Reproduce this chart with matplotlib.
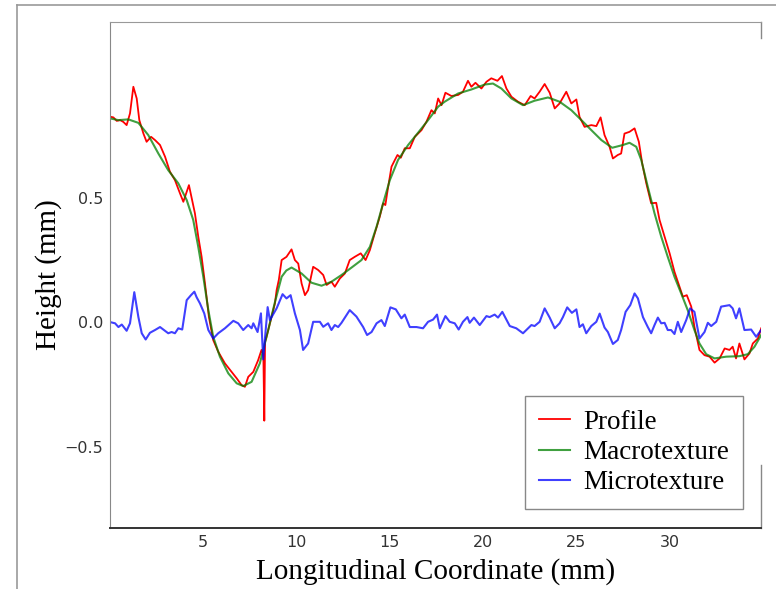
import matplotlib
matplotlib.use("Agg")
import matplotlib.pyplot as plt
from matplotlib.lines import Line2D

# ── data (x in mm, height in mm) ────────────────────────────────────────────
profile_x = [0, 0.18, 0.36, 0.54, 0.71, 0.89, 1.07, 1.25, 1.43, 1.57, 1.79, 1.96,
             2.20, 2.41, 2.68, 2.95, 3.21, 3.48, 3.75, 3.93, 4.11, 4.23, 4.38, 4.55,
             4.73, 4.91, 5.09, 5.30, 5.53, 5.80, 6.16, 6.52, 6.79, 7.05, 7.23, 7.41,
             7.68, 7.94, 8.12, 8.22, 8.27, 8.31, 8.39, 8.57, 8.84, 8.93, 9.05, 9.20,
             9.46, 9.73, 9.91, 10.09, 10.27, 10.45, 10.62, 10.89, 11.16, 11.43, 11.61,
             11.87, 12.05, 12.32, 12.59, 12.85, 13.12, 13.44, 13.70, 13.93, 14.19,
             14.46, 14.64, 14.76, 14.91, 15.09, 15.27, 15.41, 15.59, 15.80, 16.07,
             16.34, 16.70, 16.96, 17.23, 17.41, 17.59, 17.77, 17.98, 18.30, 18.66,
             18.92, 19.19, 19.37, 19.59, 19.91, 20.18, 20.44, 20.77, 21.01, 21.25,
             21.52, 21.87, 22.23, 22.55, 22.76, 23.03, 23.30, 23.57, 23.84, 24.10,
             24.46, 24.73, 25.00, 25.17, 25.44, 25.80, 26.07, 26.30, 26.51, 26.78,
             26.96, 27.22, 27.40, 27.58, 27.85, 28.12, 28.35, 28.53, 28.75, 29.01,
             29.28, 29.46, 29.73, 30.00, 30.26, 30.53, 30.71, 30.92, 31.16, 31.33,
             31.60, 31.87, 32.14, 32.41, 32.68, 32.95, 33.21, 33.38, 33.56, 33.74,
             34.01, 34.28, 34.46, 34.73, 34.91]
profile_y = [0.825, 0.822, 0.808, 0.811, 0.804, 0.791, 0.838, 0.945, 0.898, 0.811,
             0.757, 0.724, 0.744, 0.731, 0.711, 0.664, 0.604, 0.570, 0.517, 0.483,
             0.524, 0.550, 0.497, 0.437, 0.343, 0.262, 0.155, 0.021, -0.072, -0.119,
             -0.166, -0.200, -0.226, -0.253, -0.260, -0.220, -0.200, -0.153, -0.112,
             -0.130, -0.396, -0.080, -0.059, -0.005, 0.075, 0.128, 0.170, 0.249,
             0.262, 0.292, 0.249, 0.235, 0.155, 0.108, 0.128, 0.222, 0.209, 0.189,
             0.149, 0.162, 0.142, 0.175, 0.195, 0.249, 0.262, 0.276, 0.249, 0.289,
             0.356, 0.423, 0.477, 0.470, 0.543, 0.624, 0.651, 0.671, 0.660, 0.698,
             0.698, 0.744, 0.771, 0.804, 0.851, 0.838, 0.898, 0.871, 0.921, 0.908,
             0.912, 0.925, 0.969, 0.945, 0.961, 0.938, 0.965, 0.979, 0.969, 0.988,
             0.938, 0.905, 0.885, 0.871, 0.908, 0.898, 0.925, 0.956, 0.921, 0.858,
             0.878, 0.925, 0.878, 0.894, 0.824, 0.784, 0.791, 0.787, 0.822, 0.751,
             0.704, 0.657, 0.671, 0.677, 0.757, 0.764, 0.778, 0.724, 0.637, 0.557,
             0.477, 0.479, 0.410, 0.343, 0.276, 0.202, 0.142, 0.102, 0.108, 0.062,
             -0.019, -0.112, -0.133, -0.139, -0.163, -0.146, -0.106, -0.112, -0.099,
             -0.146, -0.086, -0.150, -0.126, -0.086, -0.066, -0.025]

macro_x = [0, 0.45, 0.98, 1.52, 2.05, 2.59, 3.12, 3.66, 4.11, 4.46, 4.73, 5.00,
           5.27, 5.53, 5.89, 6.34, 6.79, 7.14, 7.59, 8.03, 8.48, 8.84, 9.20, 9.45,
           9.73, 10.27, 10.80, 11.34, 11.87, 12.41, 12.95, 13.48, 13.93, 14.29,
           14.64, 15.00, 15.44, 15.98, 16.51, 17.05, 17.59, 17.94, 18.66, 19.37,
           20.09, 20.53, 20.98, 21.52, 22.14, 22.76, 23.48, 24.10, 24.73, 25.27,
           25.80, 26.34, 26.92, 27.49, 27.85, 28.21, 28.48, 28.83, 29.19, 29.55,
           29.90, 30.26, 30.62, 30.97, 31.33, 31.60, 31.96, 32.41, 33.03, 33.74,
           34.19, 34.55, 34.91]
macro_y = [0.818, 0.811, 0.814, 0.800, 0.751, 0.677, 0.610, 0.557, 0.490, 0.410,
           0.302, 0.182, 0.048, -0.059, -0.139, -0.206, -0.246, -0.257, -0.240,
           -0.166, -0.032, 0.080, 0.182, 0.207, 0.219, 0.195, 0.158, 0.146, 0.162,
           0.189, 0.219, 0.249, 0.302, 0.383, 0.477, 0.570, 0.651, 0.711, 0.760,
           0.811, 0.865, 0.885, 0.918, 0.934, 0.954, 0.958, 0.938, 0.898, 0.871,
           0.889, 0.902, 0.885, 0.851, 0.811, 0.771, 0.731, 0.700, 0.711, 0.720,
           0.704, 0.651, 0.543, 0.437, 0.343, 0.262, 0.182, 0.115, 0.048, -0.032,
           -0.086, -0.129, -0.146, -0.139, -0.137, -0.129, -0.099, -0.052]

micro_x = [0, 0.27, 0.45, 0.63, 0.89, 1.07, 1.30, 1.52, 1.70, 1.91, 2.14, 2.41,
           2.68, 2.86, 3.12, 3.30, 3.48, 3.66, 3.87, 4.11, 4.34, 4.52, 4.64, 4.82,
           5.05, 5.27, 5.53, 5.80, 6.16, 6.61, 6.87, 7.14, 7.41, 7.59, 7.68, 7.91,
           8.09, 8.21, 8.45, 8.57, 8.93, 9.25, 9.46, 9.68, 9.91, 10.18, 10.35, 10.62,
           10.89, 11.25, 11.43, 11.69, 11.87, 12.05, 12.23, 12.41, 12.85, 13.21,
           13.57, 13.78, 14.02, 14.29, 14.55, 14.73, 15.03, 15.32, 15.62, 15.80,
           16.07, 16.43, 16.78, 17.05, 17.32, 17.53, 17.68, 17.98, 18.21, 18.48,
           18.69, 18.92, 19.16, 19.28, 19.51, 19.82, 20.18, 20.35, 20.62, 20.80,
           21.03, 21.43, 21.78, 22.14, 22.59, 22.76, 23.03, 23.30, 23.57, 23.84,
           24.10, 24.28, 24.51, 24.76, 25.00, 25.17, 25.35, 25.53, 25.80, 26.07,
           26.25, 26.51, 26.69, 26.96, 27.22, 27.40, 27.64, 27.89, 28.12, 28.30,
           28.57, 28.83, 29.01, 29.19, 29.37, 29.55, 29.73, 29.90, 30.08, 30.26,
           30.44, 30.62, 30.89, 31.10, 31.33, 31.60, 31.87, 32.05, 32.23, 32.50,
           32.76, 33.21, 33.38, 33.56, 33.74, 34.01, 34.37, 34.64, 34.91]
micro_y = [0.0, -0.005, -0.020, -0.010, -0.035, -0.005, 0.120, 0.020, -0.045, -0.070,
           -0.043, -0.032, -0.020, -0.030, -0.045, -0.040, -0.045, -0.025, -0.030,
           0.088, 0.108, 0.122, 0.100, 0.075, 0.035, -0.032, -0.066, -0.045, -0.025,
           0.005, -0.005, -0.032, -0.012, -0.025, -0.005, -0.040, 0.035, -0.150,
           0.060, 0.008, 0.055, 0.112, 0.095, 0.108, 0.035, -0.032, -0.112, -0.086,
           0.001, 0.001, -0.019, -0.005, -0.032, -0.012, -0.020, -0.003, 0.048,
           0.022, -0.020, -0.052, -0.040, -0.005, 0.008, -0.016, 0.059, 0.051, 0.015,
           0.030, -0.020, -0.020, -0.025, 0.001, 0.010, 0.030, -0.025, 0.024, 0.001,
           -0.005, -0.030, 0.001, 0.020, -0.003, 0.018, -0.012, 0.024, 0.020, 0.030,
           0.018, 0.041, -0.016, -0.025, -0.045, -0.012, -0.016, 0.001, 0.055, 0.018,
           -0.025, -0.005, 0.020, 0.059, 0.037, 0.051, -0.020, -0.009, -0.045, -0.016,
           0.001, 0.034, -0.022, -0.040, -0.088, -0.072, -0.032, 0.041, 0.068, 0.115,
           0.095, 0.020, -0.020, -0.045, -0.012, 0.018, -0.005, -0.003, -0.032,
           -0.032, -0.048, 0.001, -0.040, 0.008, 0.055, 0.041, -0.066, -0.040, -0.003,
           -0.016, 0.001, 0.062, 0.068, 0.055, 0.015, 0.055, -0.032, -0.030, -0.059,
           -0.032]

x_ticks = [5, 10, 15, 20, 25, 30]
y_ticks = [-0.5, 0.0, 0.5]

# ── figure ──────────────────────────────────────────────────────────────────
fig = plt.figure(figsize=(7.76, 5.89), dpi=100)
ax = fig.add_axes([0.1418, 0.1036, 0.8389, 0.8590])

ax.plot(profile_x, profile_y, color="red", lw=1.3, label="Profile")
ax.plot(macro_x, macro_y, color="green", lw=1.5, alpha=0.75, label="Macrotexture")
ax.plot(micro_x, micro_y, color="blue", lw=1.5, alpha=0.75, label="Microtexture")

ax.set_xlim(0, 34.9)
ax.set_ylim(-0.827, 1.205)
ax.set_xticks(x_ticks)
ax.set_yticks(y_ticks)
ax.tick_params(length=0, labelsize=11.5, labelcolor="#333333", pad=5)

serif = ["Liberation Serif", "DejaVu Serif"]
ax.set_xlabel("Longitudinal Coordinate (mm)", family=serif, fontsize=21, labelpad=6)
ax.set_ylabel("Height (mm)", family=serif, fontsize=21, labelpad=2)

ax.spines["top"].set_color("#999999")
ax.spines["left"].set_color("#888888")
ax.spines["bottom"].set_color("#333333")
ax.spines["bottom"].set_linewidth(1.4)
ax.spines["right"].set_visible(False)
# right spine only shows in two short pieces in the reference
for y0, y1 in [(0.968, 1.0), (0.0, 0.125)]:
    ax.plot([1, 1], [y0, y1], color="#888888", lw=1.0,
            transform=ax.transAxes, clip_on=False)

leg = ax.legend(loc="lower right", bbox_to_anchor=(0.972, 0.0375), borderaxespad=0,
                prop={"family": serif, "size": 19.5}, fancybox=False,
                edgecolor="#888888", framealpha=1, handlelength=1.15,
                handletextpad=0.5, labelspacing=0.2, borderpad=0.5)
leg.get_frame().set_linewidth(1.0)

# outer page border (left and top edges only)
fig.add_artist(Line2D([0.0219, 0.0219], [0, 0.9915], color="#999999", lw=1.2))
fig.add_artist(Line2D([0.0219, 1.0], [0.9915, 0.9915], color="#999999", lw=1.2))

fig.savefig("out.png", dpi=100)
